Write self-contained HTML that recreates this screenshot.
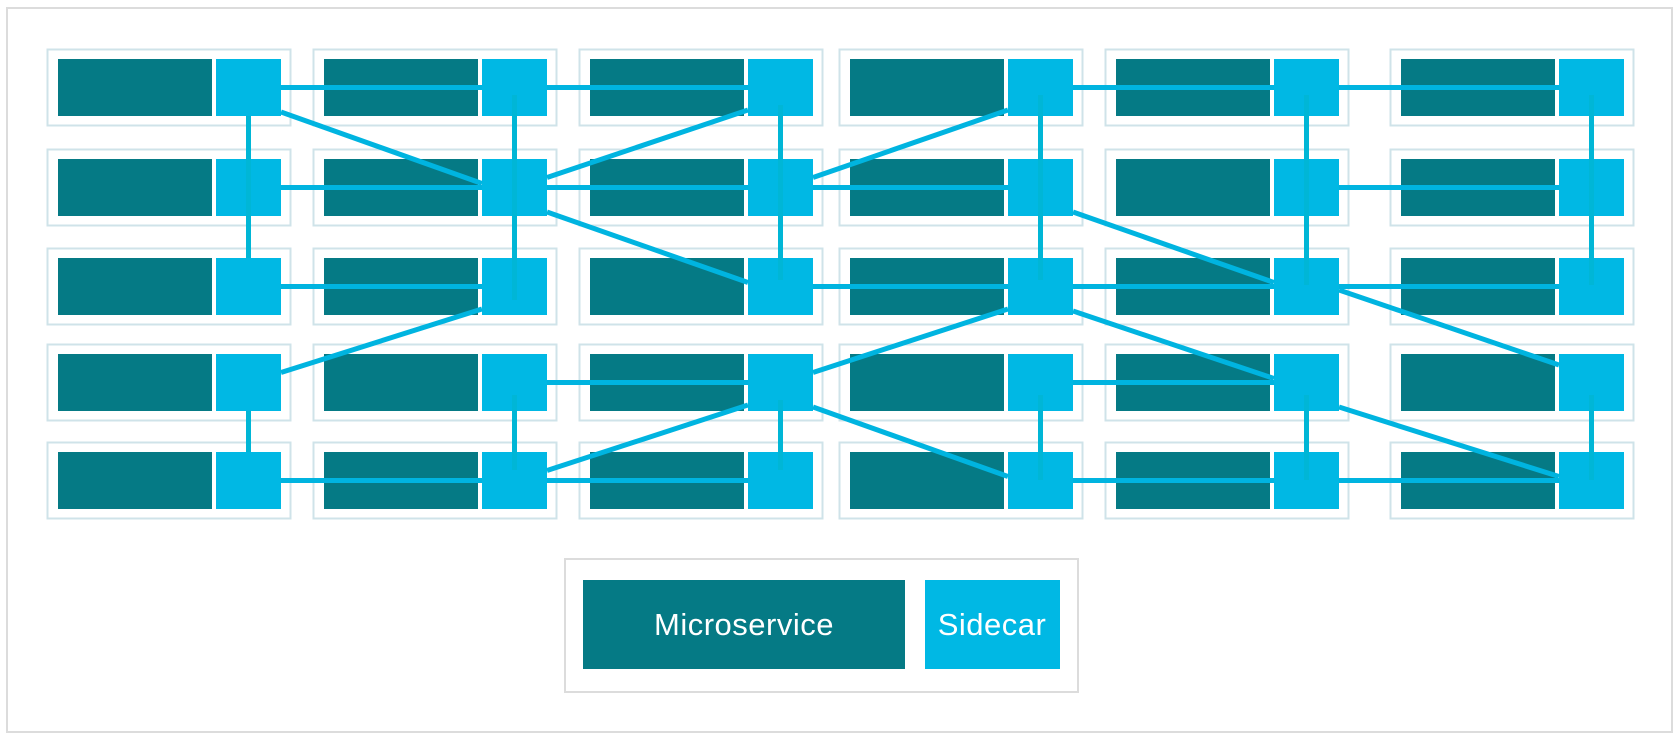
<!DOCTYPE html>
<html><head><meta charset="utf-8"><style>
html,body{margin:0;padding:0;background:#fff;}
svg{display:block;}
</style></head><body>
<svg width="1680" height="740" viewBox="0 0 1680 740" xmlns="http://www.w3.org/2000/svg">
<defs>
<g id="c">
<rect x="0.5" y="0.5" width="243" height="76" fill="#fff" stroke="#cfe3e9" stroke-width="2"/>
<rect x="11" y="10" width="154" height="57" fill="#057a85"/>
<rect x="169" y="10" width="65" height="57" fill="#00b8e4"/>
</g>
</defs>
<rect x="7" y="8" width="1665" height="724" fill="#fff" stroke="#dcdcdc" stroke-width="2"/>

<g>
<use href="#c" x="47" y="49"/><use href="#c" x="313" y="49"/><use href="#c" x="579" y="49"/><use href="#c" x="839" y="49"/><use href="#c" x="1105" y="49"/><use href="#c" x="1390" y="49"/>
<use href="#c" x="47" y="149"/><use href="#c" x="313" y="149"/><use href="#c" x="579" y="149"/><use href="#c" x="839" y="149"/><use href="#c" x="1105" y="149"/><use href="#c" x="1390" y="149"/>
<use href="#c" x="47" y="248"/><use href="#c" x="313" y="248"/><use href="#c" x="579" y="248"/><use href="#c" x="839" y="248"/><use href="#c" x="1105" y="248"/><use href="#c" x="1390" y="248"/>
<use href="#c" x="47" y="344"/><use href="#c" x="313" y="344"/><use href="#c" x="579" y="344"/><use href="#c" x="839" y="344"/><use href="#c" x="1105" y="344"/><use href="#c" x="1390" y="344"/>
<use href="#c" x="47" y="442"/><use href="#c" x="313" y="442"/><use href="#c" x="579" y="442"/><use href="#c" x="839" y="442"/><use href="#c" x="1105" y="442"/><use href="#c" x="1390" y="442"/>
</g>

<g stroke="#00b4e0" stroke-width="5" fill="none">
<line x1="281" y1="87.5" x2="482" y2="87.5"/><line x1="547" y1="87.5" x2="748" y2="87.5"/>
<line x1="1073" y1="87.5" x2="1274" y2="87.5"/><line x1="1339" y1="87.5" x2="1559" y2="87.5"/>
<line x1="281" y1="187.5" x2="482" y2="187.5"/><line x1="547" y1="187.5" x2="748" y2="187.5"/>
<line x1="813" y1="187.5" x2="1008" y2="187.5"/><line x1="1339" y1="187.5" x2="1559" y2="187.5"/>
<line x1="281" y1="286.5" x2="482" y2="286.5"/><line x1="813" y1="286.5" x2="1008" y2="286.5"/>
<line x1="1073" y1="286.5" x2="1274" y2="286.5"/><line x1="1339" y1="286.5" x2="1559" y2="286.5"/>
<line x1="547" y1="382.5" x2="748" y2="382.5"/><line x1="1073" y1="382.5" x2="1274" y2="382.5"/>
<line x1="281" y1="480.5" x2="482" y2="480.5"/><line x1="547" y1="480.5" x2="748" y2="480.5"/>
<line x1="1073" y1="480.5" x2="1274" y2="480.5"/><line x1="1339" y1="480.5" x2="1559" y2="480.5"/>
<line x1="281" y1="112" x2="482" y2="183.5"/>
<line x1="547" y1="212" x2="748" y2="282.5"/>
<line x1="813" y1="407" x2="1008" y2="476.5"/>
<line x1="1073" y1="212" x2="1274" y2="282.5"/>
<line x1="1073" y1="311" x2="1274" y2="378.5"/>
<line x1="1339" y1="290" x2="1559" y2="365"/>
<line x1="1339" y1="407" x2="1559" y2="476.5"/>
<line x1="547" y1="177.5" x2="748" y2="110"/>
<line x1="813" y1="177.5" x2="1008" y2="110"/>
<line x1="281" y1="372.5" x2="482" y2="309"/>
<line x1="813" y1="372.5" x2="1008" y2="309"/>
<line x1="547" y1="470.5" x2="748" y2="405"/>
</g>
<g stroke="#00b6d6" stroke-width="5" fill="none">
<line x1="248.5" y1="116" x2="248.5" y2="258"/><line x1="248.5" y1="411" x2="248.5" y2="452"/>
<line x1="514.5" y1="95" x2="514.5" y2="300"/><line x1="514.5" y1="395" x2="514.5" y2="470"/>
<line x1="780.5" y1="105" x2="780.5" y2="280"/><line x1="780.5" y1="400" x2="780.5" y2="470"/>
<line x1="1040.5" y1="95" x2="1040.5" y2="280"/><line x1="1040.5" y1="395" x2="1040.5" y2="480"/>
<line x1="1306.5" y1="95" x2="1306.5" y2="285"/><line x1="1306.5" y1="395" x2="1306.5" y2="480"/>
<line x1="1591.5" y1="95" x2="1591.5" y2="285"/><line x1="1591.5" y1="395" x2="1591.5" y2="480"/>
</g>

<rect x="565" y="559" width="513" height="133" fill="#fff" stroke="#dcdcdc" stroke-width="2"/>
<rect x="583" y="580" width="322" height="89" fill="#057a85"/>
<rect x="925" y="580" width="135" height="89" fill="#00b8e4"/>
<text x="744" y="635" fill="#fff" font-family="Liberation Sans, sans-serif" font-size="31" letter-spacing="0.5" text-anchor="middle">Microservice</text>
<text x="992" y="635" fill="#fff" font-family="Liberation Sans, sans-serif" font-size="31" letter-spacing="0.5" text-anchor="middle">Sidecar</text>
</svg>
</body></html>
